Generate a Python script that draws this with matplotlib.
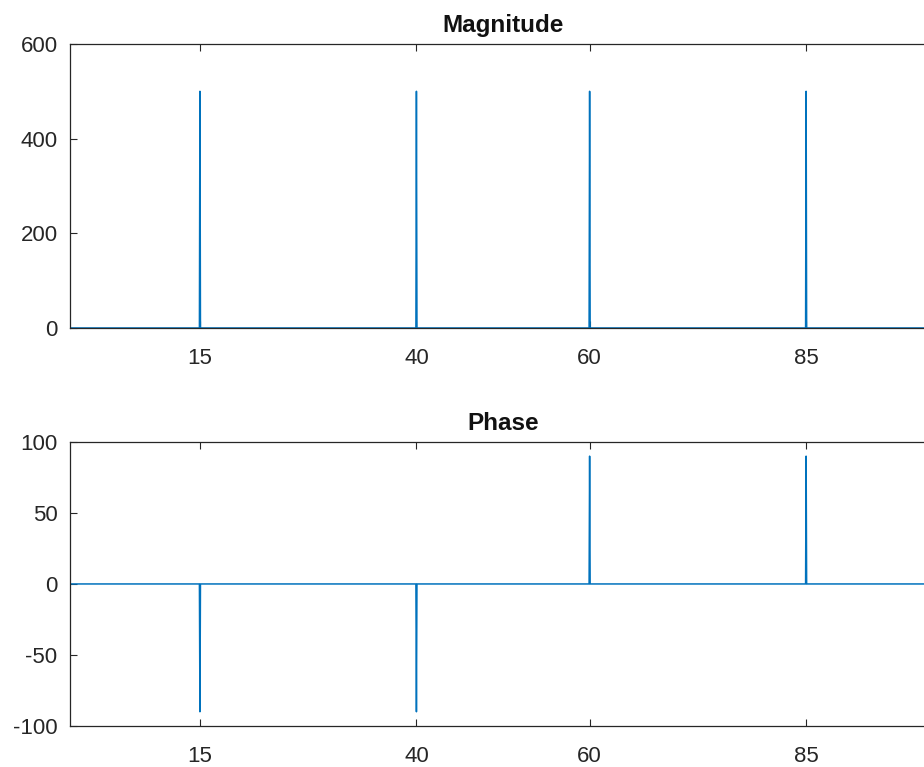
import matplotlib
matplotlib.use("Agg")
import matplotlib.pyplot as plt

# spike positions and values
freqs = [15, 40, 60, 85]
mags = [500, 500, 500, 500]
phases = [-90, -90, 90, 90]
xticks = [15, 40, 60, 85]
x_min, x_max = 0, 100
half_width = 0.06

blue = "#0072BD"
gray = "#262626"

plt.rcParams['font.family'] = ['Liberation Sans', 'DejaVu Sans']
plt.rcParams['font.size'] = 16
plt.rcParams['axes.unicode_minus'] = False


def spike_series(fs, vals):
    xs = [x_min]
    ys = [0]
    for f, v in zip(fs, vals):
        xs += [f - half_width, f, f + half_width]
        ys += [0, v, 0]
    xs.append(x_max)
    ys.append(0)
    return xs, ys


def style(ax, title, yticks):
    ax.set_xlim(x_min, x_max)
    ax.set_ylim(yticks[0], yticks[-1])
    ax.set_xticks(xticks)
    ax.set_yticks(yticks)
    ax.set_title(title, fontweight="bold", fontsize=17.5, color="#111111", pad=8.5)
    ax.tick_params(direction="in", length=5, width=0.8, top=True, right=True,
                   colors=gray, labelsize=16)
    ax.tick_params(axis="x", pad=14.5)
    ax.tick_params(axis="y", pad=9)
    for s in ax.spines.values():
        s.set_color(gray)
        s.set_linewidth(0.9)


fig = plt.figure(figsize=(9.24, 7.67), dpi=100)
ax1 = fig.add_axes([0.0758, 0.5724, 0.9372, 0.3703])
ax2 = fig.add_axes([0.0758, 0.0535, 0.9372, 0.3703])

xs, ys = spike_series(freqs, mags)
ax1.plot(xs, ys, color=blue, linewidth=1.1)
style(ax1, "Magnitude", [0, 200, 400, 600])

xs, ys = spike_series(freqs, phases)
ax2.plot(xs, ys, color=blue, linewidth=1.1)
style(ax2, "Phase", [-100, -50, 0, 50, 100])

fig.savefig("out.png", dpi=100)
